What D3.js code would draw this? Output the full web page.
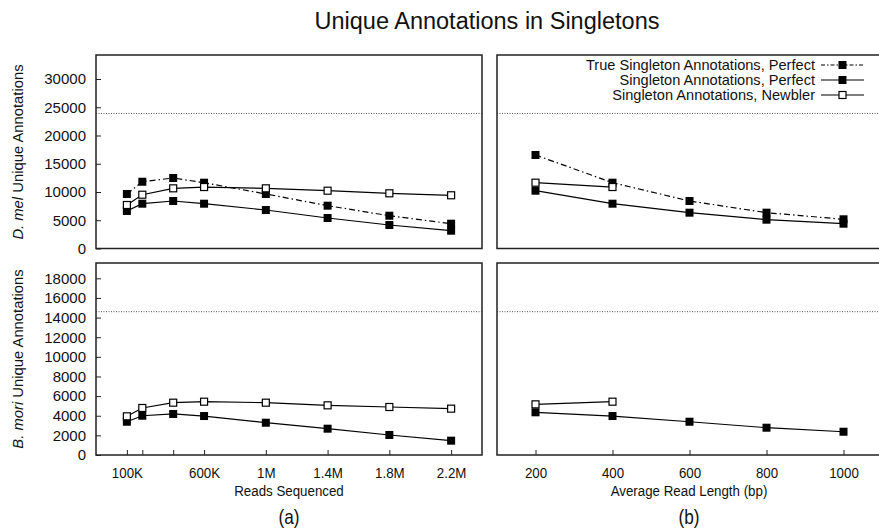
<!DOCTYPE html>
<html>
<head>
<meta charset="utf-8">
<script src="https://cdn.jsdelivr.net/npm/d3@7"></script>
<style>
  html, body { margin: 0; padding: 0; background: #fff; }
  svg { display: block; font-family: "Liberation Sans", Arial, sans-serif; }
</style>
</head>
<body>
<svg id="chart" width="879" height="531"></svg>
<script>
// x values
const readsK = [100, 200, 400, 600, 1000, 1400, 1800, 2200];
const readLen = [200, 400, 600, 800, 1000];
const readTicks = [100, 600, 1000, 1400, 1800, 2200];
const readTickLabels = ['100K', '600K', '1M', '1.4M', '1.8M', '2.2M'];
const lenTicks = [200, 400, 600, 800, 1000];

// D. mel
const dmelTrueReads = [9650, 11820, 12480, 11650, 9650, 7580, 5800, 4390];
const dmelPerfReads = [6640, 7930, 8410, 7930, 6810, 5400, 4160, 3150];
const dmelNewbReads = [7700, 9520, 10650, 10880, 10650, 10230, 9770, 9420];
const dmelTrueLen = [16550, 11650, 8410, 6340, 5170];
const dmelPerfLen = [10230, 7930, 6340, 5100, 4390];
const dmelNewbLen = [11650, 10880];
const dmelTotal = 23900;
const dmelTicks = [0, 5000, 10000, 15000, 20000, 25000, 30000];

// B. mori
const bmoriPerfReads = [3390, 4000, 4180, 3970, 3290, 2680, 2040, 1460];
const bmoriNewbReads = [3940, 4790, 5330, 5430, 5330, 5060, 4890, 4720];
const bmoriPerfLen = [4350, 3970, 3390, 2780, 2370];
const bmoriNewbLen = [5160, 5430];
const bmoriTotal = 14600;
const bmoriTicks = [0, 2000, 4000, 6000, 8000, 10000, 12000, 14000, 16000, 18000];

const seriesNames = ['True Singleton Annotations, Perfect', 'Singleton Annotations, Perfect', 'Singleton Annotations, Newbler'];

const svg = d3.select('#chart');
const frameColor = '#222';
const squeeze = 0.86; // bottom labels look horizontally condensed

const xReads = d3.scaleLinear().domain([-100, 2400]).range([96, 482]);
const xLen = d3.scaleLinear().domain([100, 1100]).range([497, 882]);
const yDmel = d3.scaleLinear().domain([0, 34250]).range([248.5, 55]);
const yBmori = d3.scaleLinear().domain([0, 19560]).range([455, 263]);

const zip = (xs, ys) => ys.map((v, i) => [xs[i], v]);

function drawPanel(x, y, opts) {
  const g = svg.append('g');
  const [x0, x1] = x.range();
  const [y0, y1] = y.range();

  // reference line
  g.append('line')
    .attr('x1', x0).attr('x2', x1)
    .attr('y1', y(opts.total)).attr('y2', y(opts.total))
    .attr('stroke', '#555').attr('stroke-width', 1)
    .attr('stroke-dasharray', '1,1.5');

  opts.series.forEach(s => {
    const line = d3.line().x(d => x(d[0])).y(d => y(d[1]));
    g.append('path')
      .datum(s.data)
      .attr('d', line)
      .attr('fill', 'none')
      .attr('stroke', '#000')
      .attr('stroke-width', 1.2)
      .attr('stroke-dasharray', s.dash ? '6,3,1.5,3' : null);
    drawMarkers(g, s.data.map(d => [x(d[0]), y(d[1])]), s.open);
  });

  // frame
  g.append('rect')
    .attr('x', x0).attr('y', y1)
    .attr('width', x1 - x0).attr('height', y0 - y1)
    .attr('fill', 'none').attr('stroke', frameColor).attr('stroke-width', 1.5);

  if (opts.yTicks) {
    const ax = g.append('g').attr('transform', `translate(${x0},0)`)
      .call(d3.axisLeft(y).tickValues(opts.yTicks).tickSize(-5).tickPadding(10)
        .tickFormat(d3.format('d')));
    styleAxis(ax, '15px');
  }
  if (opts.xTicks) {
    const ax = g.append('g').attr('transform', `translate(0,${y0})`)
      .call(d3.axisBottom(x).tickValues(opts.xTickMarks).tickSize(-5).tickPadding(12)
        .tickFormat(d => {
          const i = opts.xTicks.indexOf(d);
          return i < 0 ? '' : opts.xTickLabels[i];
        }));
    styleAxis(ax, '15.5px');
    ax.selectAll('text').attr('transform', `scale(${squeeze},1)`);
  }
}

function styleAxis(ax, size) {
  ax.select('.domain').remove();
  ax.selectAll('line').attr('stroke', frameColor).attr('stroke-width', 1);
  ax.selectAll('text').attr('fill', '#111').style('font-size', size)
    .style('font-family', '"Liberation Sans", Arial, sans-serif');
}

function drawMarkers(g, pts, open) {
  const s = open ? 7 : 8;
  g.selectAll(null).data(pts).enter().append('rect')
    .attr('x', d => d[0] - s / 2).attr('y', d => d[1] - s / 2)
    .attr('width', s).attr('height', s)
    .attr('fill', open ? '#fff' : '#000')
    .attr('stroke', '#000').attr('stroke-width', open ? 1.2 : 0);
}

drawPanel(xReads, yDmel, {
  total: dmelTotal, yTicks: dmelTicks,
  series: [
    { data: zip(readsK, dmelTrueReads), dash: true },
    { data: zip(readsK, dmelPerfReads) },
    { data: zip(readsK, dmelNewbReads), open: true }
  ]
});
drawPanel(xLen, yDmel, {
  total: dmelTotal,
  series: [
    { data: zip(readLen, dmelTrueLen), dash: true },
    { data: zip(readLen, dmelPerfLen) },
    { data: zip(readLen, dmelNewbLen), open: true }
  ]
});
drawPanel(xReads, yBmori, {
  total: bmoriTotal, yTicks: bmoriTicks,
  xTicks: readTicks, xTickMarks: readsK, xTickLabels: readTickLabels,
  series: [
    { data: zip(readsK, bmoriPerfReads) },
    { data: zip(readsK, bmoriNewbReads), open: true }
  ]
});
drawPanel(xLen, yBmori, {
  total: bmoriTotal,
  xTicks: lenTicks, xTickMarks: lenTicks, xTickLabels: lenTicks.map(String),
  series: [
    { data: zip(readLen, bmoriPerfLen) },
    { data: zip(readLen, bmoriNewbLen), open: true }
  ]
});

// legend
const legend = svg.append('g');
seriesNames.forEach((name, i) => {
  const ly = 65 + i * 15;
  legend.append('text')
    .attr('x', 815).attr('y', ly).attr('dy', '0.35em')
    .attr('text-anchor', 'end').style('font-size', '14.6px').attr('fill', '#111')
    .text(name);
  legend.append('line')
    .attr('x1', 821).attr('x2', 864).attr('y1', ly).attr('y2', ly)
    .attr('stroke', '#000').attr('stroke-width', 1.2)
    .attr('stroke-dasharray', i === 0 ? '4,2,1.5,2' : null);
  drawMarkers(legend, [[842.5, ly]], i === 2);
});

// title
svg.append('text')
  .attr('x', 487).attr('y', 29).attr('text-anchor', 'middle')
  .style('font-size', '23.5px').attr('fill', '#111')
  .text('Unique Annotations in Singletons');

// y labels
function yLabel(cy, species) {
  const t = svg.append('text')
    .attr('transform', `translate(23,${cy}) rotate(-90)`)
    .attr('text-anchor', 'middle').style('font-size', '14.8px').attr('fill', '#111');
  t.append('tspan').style('font-style', 'italic').text(species);
  t.append('tspan').text(' Unique Annotations');
}
yLabel(152, 'D. mel');
yLabel(359, 'B. mori');

// x labels
[[289, 'Reads Sequenced', '(a)'], [689, 'Average Read Length (bp)', '(b)']].forEach(([cx, label, tag]) => {
  svg.append('text').attr('transform', `translate(${cx},496) scale(${squeeze},1)`)
    .attr('text-anchor', 'middle')
    .style('font-size', '15.5px').attr('fill', '#111').text(label);
  svg.append('text').attr('transform', `translate(${cx},524) scale(${squeeze},1)`)
    .attr('text-anchor', 'middle')
    .style('font-size', '20px').attr('fill', '#111').text(tag);
});
</script>
</body>
</html>
